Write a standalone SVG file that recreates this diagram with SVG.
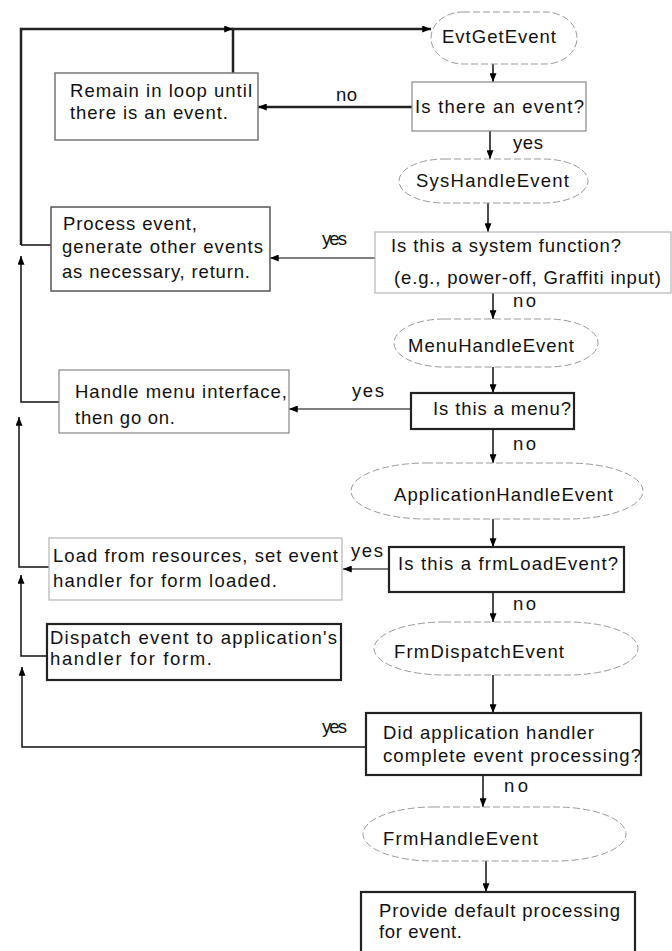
<svg xmlns="http://www.w3.org/2000/svg" width="672" height="951" viewBox="0 0 672 951">
  <defs>
    <marker id="ah" viewBox="0 0 10 8" refX="10" refY="4" markerWidth="10" markerHeight="7" markerUnits="userSpaceOnUse" orient="auto">
      <path d="M0,0 L10,4 L0,8 Z" fill="#000"/>
    </marker>
  </defs>
  <style>
    text { font-family: "Liberation Sans", Arial, sans-serif; font-size: 18.5px; fill: #111; }
    .term { fill: #fff; stroke: #999; stroke-width: 1; stroke-dasharray: 7 3; }
    .box { fill: #fff; }
    .light { stroke: #b5b5b5; stroke-width: 1.2; }
    .mid { stroke: #777; stroke-width: 1.5; }
    .dark { stroke: #222; stroke-width: 2.2; }
    .conn { fill: none; stroke: #111; stroke-width: 1.5; }
    .thin { fill: none; stroke: #555; stroke-width: 1.3; }
    .heavy { fill: none; stroke: #222; stroke-width: 2.5; }
  </style>
  <rect width="672" height="951" fill="#fff"/>

  <!-- connectors -->
  <g id="connectors">
    <!-- main loop back to EvtGetEvent -->
    <path class="heavy" d="M21,245 L21,29 L233,29" marker-end="url(#ah)"/>
    <path class="heavy" d="M233,73 L233,29 L431,29" marker-end="url(#ah)"/>
    <path class="conn" d="M51,245 L21,245"/>
    <path class="conn" d="M59,402 L21,402 L21,256" marker-end="url(#ah)"/>
    <path class="conn" d="M49,567 L19,567 L19,417" marker-end="url(#ah)"/>
    <path class="conn" d="M47,656 L21,656 L21,575" marker-end="url(#ah)"/>
    <path class="conn" d="M366,747 L22,747 L22,667" marker-end="url(#ah)"/>

    <!-- branches to the left -->
    <path class="heavy" d="M412,107 L258,107" marker-end="url(#ah)"/>
    <path class="thin" d="M375,258 L270,258" marker-end="url(#ah)"/>
    <path class="thin" d="M411,409 L289,409" marker-end="url(#ah)"/>
    <path class="thin" d="M389,569 L343,569" marker-end="url(#ah)"/>

    <!-- main flow down -->
    <path class="conn" d="M493,64 L493,82" marker-end="url(#ah)"/>
    <path class="conn" d="M490,131 L490,159" marker-end="url(#ah)"/>
    <path class="conn" d="M488,203 L488,232" marker-end="url(#ah)"/>
    <path class="conn" d="M493,293 L493,319" marker-end="url(#ah)"/>
    <path class="conn" d="M493,367 L493,393" marker-end="url(#ah)"/>
    <path class="conn" d="M493,429 L493,463" marker-end="url(#ah)"/>
    <path class="conn" d="M493,519 L493,547" marker-end="url(#ah)"/>
    <path class="conn" d="M493,592 L493,622" marker-end="url(#ah)"/>
    <path class="conn" d="M493,675 L493,713" marker-end="url(#ah)"/>
    <path class="conn" d="M483,775 L483,807" marker-end="url(#ah)"/>
    <path class="conn" d="M486,861 L486,892" marker-end="url(#ah)"/>

    <!-- branch labels -->
    <text x="336" y="101" textLength="21">no</text>
    <text x="513" y="149" textLength="30">yes</text>
    <text x="322" y="245" textLength="25">yes</text>
    <text x="513" y="307" textLength="23">no</text>
    <text x="352" y="397" textLength="32">yes</text>
    <text x="513" y="450" textLength="23">no</text>
    <text x="351" y="557" textLength="32">yes</text>
    <text x="513" y="610" textLength="23">no</text>
    <text x="322" y="733" textLength="25">yes</text>
    <text x="504" y="792" textLength="24">no</text>
  </g>

  <!-- terminals -->
  <g id="evtGetEvent">
    <rect class="term" x="431" y="12" width="146" height="52" rx="32" ry="26"/>
    <text x="442" y="43" textLength="114">EvtGetEvent</text>
  </g>
  <g id="sysHandleEvent">
    <rect class="term" x="399" y="159" width="189" height="44" rx="45" ry="22"/>
    <text x="416" y="187" textLength="153">SysHandleEvent</text>
  </g>
  <g id="menuHandleEvent">
    <rect class="term" x="394" y="319" width="204" height="48" rx="50" ry="24"/>
    <text x="408" y="352" textLength="166">MenuHandleEvent</text>
  </g>
  <g id="applicationHandleEvent">
    <rect class="term" x="351" y="463" width="292" height="56" rx="75" ry="28"/>
    <text x="394" y="501" textLength="219">ApplicationHandleEvent</text>
  </g>
  <g id="frmDispatchEvent">
    <rect class="term" x="374" y="622" width="264" height="53" rx="70" ry="26.5"/>
    <text x="394" y="658" textLength="170">FrmDispatchEvent</text>
  </g>
  <g id="frmHandleEvent">
    <rect class="term" x="363" y="807" width="263" height="54" rx="70" ry="27"/>
    <text x="383" y="845" textLength="155">FrmHandleEvent</text>
  </g>

  <!-- decisions -->
  <g id="isThereEvent">
    <rect class="box" x="412" y="82" width="174" height="49" style="stroke:#888;stroke-width:1.2"/>
    <text x="415" y="113" textLength="169">Is there an event?</text>
  </g>
  <g id="isSystemFunction">
    <rect class="box light" x="375" y="232" width="296" height="61"/>
    <text x="391" y="252" textLength="230">Is this a system function?</text>
    <text x="394" y="284" textLength="267">(e.g., power-off, Graffiti input)</text>
  </g>
  <g id="isMenu">
    <rect class="box dark" x="411" y="393" width="163" height="36"/>
    <text x="433" y="415" textLength="138">Is this a menu?</text>
  </g>
  <g id="isFrmLoadEvent">
    <rect class="box dark" x="389" y="547" width="235" height="45"/>
    <text x="398" y="570" textLength="220">Is this a frmLoadEvent?</text>
  </g>
  <g id="didAppHandle">
    <rect class="box dark" x="366" y="713" width="275" height="62"/>
    <text x="383" y="739" textLength="211">Did application handler</text>
    <text x="383" y="762" textLength="258">complete event processing?</text>
  </g>

  <!-- actions -->
  <g id="remainInLoop">
    <rect class="box mid" x="55" y="73" width="203" height="67"/>
    <text x="70" y="97" textLength="182">Remain in loop until</text>
    <text x="70" y="119" textLength="158">there is an event.</text>
  </g>
  <g id="processEvent">
    <rect class="box" x="51" y="207" width="219" height="84" style="stroke:#555;stroke-width:1.5"/>
    <text x="63" y="230" textLength="134">Process event,</text>
    <text x="62" y="253" textLength="201">generate other events</text>
    <text x="62" y="278" textLength="188">as necessary, return.</text>
  </g>
  <g id="handleMenu">
    <rect class="box" x="59" y="370" width="230" height="63" style="stroke:#888;stroke-width:1.2"/>
    <text x="75" y="398" textLength="212">Handle menu interface,</text>
    <text x="75" y="424" textLength="100">then go on.</text>
  </g>
  <g id="loadResources">
    <rect class="box light" x="49" y="538" width="293" height="62"/>
    <text x="53" y="562" textLength="285">Load from resources, set event</text>
    <text x="53" y="587" textLength="224">handler for form loaded.</text>
  </g>
  <g id="dispatchEvent">
    <rect class="box dark" x="47" y="624" width="294" height="56"/>
    <text x="50" y="644" textLength="287">Dispatch event to application's</text>
    <text x="50" y="665" textLength="162">handler for form.</text>
  </g>
  <g id="defaultProcessing">
    <rect class="box dark" x="361" y="892" width="274" height="64"/>
    <text x="379" y="917" textLength="241">Provide default processing</text>
    <text x="379" y="938" textLength="83">for event.</text>
  </g>
</svg>
